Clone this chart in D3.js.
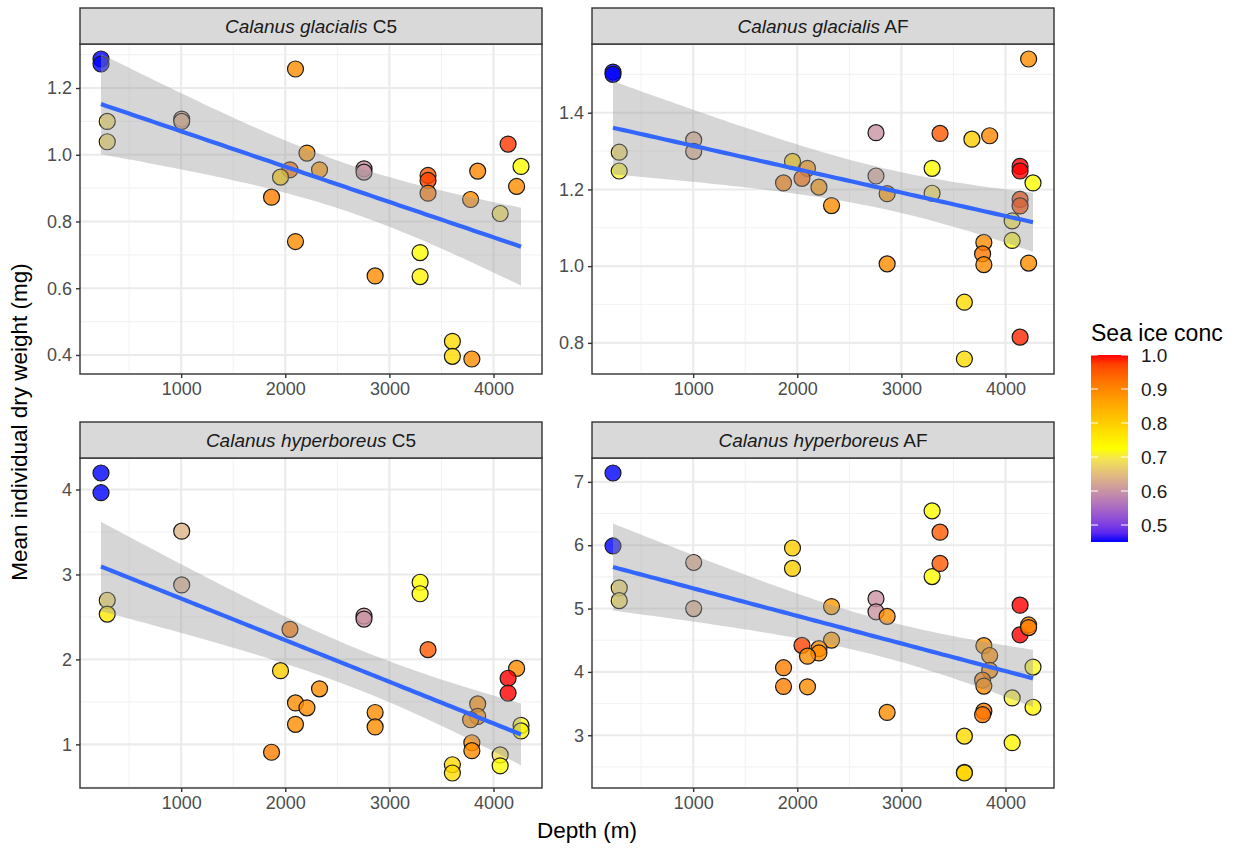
<!DOCTYPE html>
<html>
<head>
<meta charset="utf-8">
<script src="https://cdn.jsdelivr.net/npm/d3@7"></script>
<style>
  body { margin: 0; background: #fff; }
  svg { font-family: "Liberation Sans", Arial, sans-serif; }
</style>
</head>
<body>
<div id="chart"></div>
<script>
// station depths (m), dry weights (mg) and sea ice concentration per facet
const glacC5Depth = [230, 230, 290, 290, 1005, 1005, 2098, 2208, 2045, 1954, 2329, 1868, 2098, 2756, 2756, 2863, 3371, 3371, 3371, 3295, 3295, 3848, 3780, 4140, 4264, 4222, 4064, 3605, 3605, 3792];
const glacC5Weight = [1.287, 1.272, 1.100, 1.039, 1.107, 1.100, 1.257, 1.005, 0.955, 0.933, 0.955, 0.873, 0.740, 0.958, 0.948, 0.637, 0.938, 0.923, 0.885, 0.707, 0.635, 0.951, 0.866, 1.032, 0.965, 0.905, 0.824, 0.441, 0.396, 0.388];
const glacC5Ice = [0.45, 0.45, 0.68, 0.68, 0.63, 0.63, 0.89, 0.88, 0.93, 0.8, 0.88, 0.91, 0.89, 0.6, 0.6, 0.89, 0.95, 0.97, 0.92, 0.73, 0.74, 0.9, 0.89, 0.98, 0.73, 0.89, 0.69, 0.78, 0.78, 0.89];

const glacAFDepth = [230, 230, 290, 290, 1005, 1005, 1954, 2098, 2045, 1868, 2208, 2329, 2756, 2756, 2863, 2863, 3371, 3295, 3295, 3677, 3848, 3792, 3780, 3792, 3605, 3605, 4222, 4140, 4140, 4264, 4140, 4140, 4064, 4064, 4222, 4140];
const glacAFWeight = [1.506, 1.500, 1.297, 1.248, 1.329, 1.299, 1.273, 1.255, 1.229, 1.217, 1.206, 1.158, 1.348, 1.235, 1.189, 1.006, 1.346, 1.255, 1.190, 1.331, 1.340, 1.062, 1.032, 1.004, 0.906, 0.758, 1.540, 1.260, 1.248, 1.217, 1.174, 1.157, 1.118, 1.067, 1.008, 0.815];
const glacAFIce = [0.45, 0.45, 0.68, 0.71, 0.63, 0.63, 0.8, 0.88, 0.93, 0.91, 0.88, 0.89, 0.6, 0.62, 0.88, 0.89, 0.95, 0.73, 0.69, 0.8, 0.9, 0.89, 0.92, 0.89, 0.78, 0.78, 0.89, 1.0, 1.0, 0.73, 0.97, 0.97, 0.7, 0.72, 0.89, 0.99];

const hypC5Depth = [230, 230, 290, 290, 1005, 1005, 2045, 1954, 2329, 2098, 2208, 2098, 1868, 2756, 2756, 2863, 2863, 3295, 3295, 3371, 3848, 3848, 3780, 3792, 3792, 3605, 3605, 4064, 4064, 4222, 4140, 4140, 4264, 4264];
const hypC5Weight = [4.194, 3.962, 2.696, 2.533, 3.509, 2.877, 2.354, 1.867, 1.654, 1.488, 1.430, 1.236, 0.907, 2.510, 2.475, 1.375, 1.205, 2.908, 2.773, 2.115, 1.476, 1.329, 1.290, 1.019, 0.926, 0.760, 0.663, 0.876, 0.748, 1.894, 1.778, 1.604, 1.224, 1.158];
const hypC5Ice = [0.45, 0.45, 0.68, 0.76, 0.64, 0.63, 0.92, 0.8, 0.89, 0.89, 0.89, 0.89, 0.91, 0.6, 0.6, 0.89, 0.89, 0.73, 0.73, 0.95, 0.89, 0.89, 0.89, 0.89, 0.89, 0.78, 0.78, 0.69, 0.73, 0.89, 1.0, 1.0, 0.72, 0.74];

const hypAFDepth = [230, 230, 290, 290, 1005, 1005, 1954, 1954, 2329, 2329, 2045, 2208, 2208, 2098, 1868, 1868, 2098, 2756, 2756, 2863, 2863, 3295, 3295, 3371, 3371, 3792, 3848, 3848, 3780, 3792, 3792, 3780, 3605, 3605, 3605, 4064, 4064, 4140, 4140, 4222, 4222, 4264, 4264];
const hypAFWeight = [7.140, 5.988, 5.327, 5.125, 5.727, 5.000, 5.956, 5.634, 5.031, 4.502, 4.419, 4.367, 4.299, 4.248, 4.066, 3.770, 3.765, 5.156, 4.949, 4.876, 3.360, 6.542, 5.505, 6.206, 5.712, 4.414, 4.259, 4.025, 3.869, 3.776, 3.380, 3.324, 2.986, 2.414, 2.404, 3.589, 2.882, 5.053, 4.586, 4.741, 4.700, 4.076, 3.442];
const hypAFIce = [0.45, 0.45, 0.68, 0.69, 0.63, 0.63, 0.8, 0.8, 0.87, 0.87, 0.97, 0.89, 0.89, 0.89, 0.91, 0.91, 0.89, 0.6, 0.6, 0.89, 0.89, 0.73, 0.73, 0.95, 0.95, 0.88, 0.89, 0.89, 0.91, 0.89, 0.91, 0.92, 0.78, 0.78, 0.79, 0.71, 0.74, 1.0, 1.0, 0.9, 0.91, 0.72, 0.74];

const xTicks = [1000, 2000, 3000, 4000];
const glacC5Ticks = [0.4, 0.6, 0.8, 1.0, 1.2];
const glacAFTicks = [0.8, 1.0, 1.2, 1.4];
const hypC5Ticks = [1, 2, 3, 4];
const hypAFTicks = [3, 4, 5, 6, 7];
const iceTicks = [0.5, 0.6, 0.7, 0.8, 0.9, 1.0];

const panels = [
  { species: 'Calanus glacialis', stage: 'C5', depth: glacC5Depth, weight: glacC5Weight, ice: glacC5Ice, ticks: glacC5Ticks, fmt: '.1f', col: 0, row: 0 },
  { species: 'Calanus glacialis', stage: 'AF', depth: glacAFDepth, weight: glacAFWeight, ice: glacAFIce, ticks: glacAFTicks, fmt: '.1f', col: 1, row: 0 },
  { species: 'Calanus hyperboreus', stage: 'C5', depth: hypC5Depth, weight: hypC5Weight, ice: hypC5Ice, ticks: hypC5Ticks, fmt: 'd', col: 0, row: 1 },
  { species: 'Calanus hyperboreus', stage: 'AF', depth: hypAFDepth, weight: hypAFWeight, ice: hypAFIce, ticks: hypAFTicks, fmt: 'd', col: 1, row: 1 }
];

const width = 1239, height = 850;
const colX = [80, 592], rowY = [8, 422];
const panelW = 462, panelH = 330, stripH = 36;
const fontFam = '"Liberation Sans", Arial, sans-serif';

const svg = d3.select('#chart').append('svg')
  .attr('width', width)
  .attr('height', height);

// ggplot-like 5% expansion
function expand(ext) {
  let pad = (ext[1] - ext[0]) * 0.05;
  return [ext[0] - pad, ext[1] + pad];
}

let allDepth = [].concat(...panels.map(p => p.depth));
let x = d3.scaleLinear().domain(expand(d3.extent(allDepth))).range([0, panelW]);

let allIce = [].concat(...panels.map(p => p.ice));
let iceExt = d3.extent(allIce);
let color = d3.scaleLinear()
  .domain([iceExt[0], (iceExt[0] + iceExt[1]) / 2, iceExt[1]])
  .range(['blue', 'yellow', 'red'])
  .interpolate(d3.interpolateLab);

// t quantile (0.975) approximation for the lm confidence band
function tQuant(df) {
  let z = 1.959964;
  return z + (z ** 3 + z) / (4 * df) + (5 * z ** 5 + 16 * z ** 3 + 3 * z) / (96 * df * df);
}

function lmFit(xs, ys) {
  let n = xs.length;
  let mx = d3.mean(xs), my = d3.mean(ys);
  let sxx = d3.sum(xs, v => (v - mx) ** 2);
  let sxy = d3.sum(xs.map((v, i) => (v - mx) * (ys[i] - my)));
  let b = sxy / sxx, a = my - b * mx;
  let rss = d3.sum(xs.map((v, i) => (ys[i] - a - b * v) ** 2));
  let s = Math.sqrt(rss / (n - 2));
  let t = tQuant(n - 2);
  let ext = d3.extent(xs);
  return d3.range(80).map(i => {
    let xv = ext[0] + (ext[1] - ext[0]) * i / 79;
    let fit = a + b * xv;
    let se = s * Math.sqrt(1 / n + (xv - mx) ** 2 / sxx);
    return { x: xv, y: fit, lo: fit - t * se, hi: fit + t * se };
  });
}

panels.forEach(p => {
  let g = svg.append('g')
    .attr('transform', `translate(${colX[p.col]},${rowY[p.row]})`);
  let y = d3.scaleLinear().domain(expand(d3.extent(p.weight))).range([panelH, 0]);
  let body = g.append('g').attr('transform', `translate(0,${stripH})`);

  let clipId = `clip-${p.col}-${p.row}`;
  body.append('clipPath').attr('id', clipId)
    .append('rect').attr('width', panelW).attr('height', panelH);

  // minor grid
  let yt = p.ticks;
  let step = yt[1] - yt[0];
  let yMinor = d3.range(yt.length + 1).map(i => yt[0] - step / 2 + i * step)
    .filter(v => v > y.domain()[0] && v < y.domain()[1]);
  let xMinor = [500, 1500, 2500, 3500].filter(v => v > x.domain()[0] && v < x.domain()[1]);
  body.selectAll('.gminy').data(yMinor).enter().append('line')
    .attr('x1', 0).attr('x2', panelW)
    .attr('y1', d => y(d)).attr('y2', d => y(d))
    .attr('stroke', '#F3F3F3').attr('stroke-width', 1.1);
  body.selectAll('.gminx').data(xMinor).enter().append('line')
    .attr('y1', 0).attr('y2', panelH)
    .attr('x1', d => x(d)).attr('x2', d => x(d))
    .attr('stroke', '#F3F3F3').attr('stroke-width', 1.1);
  // major grid
  body.selectAll('.gmajy').data(yt).enter().append('line')
    .attr('x1', 0).attr('x2', panelW)
    .attr('y1', d => y(d)).attr('y2', d => y(d))
    .attr('stroke', '#EBEBEB').attr('stroke-width', 2.1);
  body.selectAll('.gmajx').data(xTicks).enter().append('line')
    .attr('y1', 0).attr('y2', panelH)
    .attr('x1', d => x(d)).attr('x2', d => x(d))
    .attr('stroke', '#EBEBEB').attr('stroke-width', 2.1);

  let content = body.append('g').attr('clip-path', `url(#${clipId})`);
  let pts = p.depth.map((d, i) => ({ depth: d, weight: p.weight[i], ice: p.ice[i] }));
  content.selectAll('circle').data(pts).enter().append('circle')
    .attr('cx', d => x(d.depth))
    .attr('cy', d => y(d.weight))
    .attr('r', 8)
    .attr('fill', d => color(d.ice))
    .attr('fill-opacity', 0.8)
    .attr('stroke', '#1a1a1a')
    .attr('stroke-width', 1.2);

  // lm smooth with 95% band
  let fit = lmFit(p.depth, p.weight);
  content.append('path')
    .datum(fit)
    .attr('d', d3.area().x(d => x(d.x)).y0(d => y(d.lo)).y1(d => y(d.hi)))
    .attr('fill', '#999999')
    .attr('fill-opacity', 0.4);
  content.append('path')
    .datum(fit)
    .attr('d', d3.line().x(d => x(d.x)).y(d => y(d.y)))
    .attr('fill', 'none')
    .attr('stroke', '#3366FF')
    .attr('stroke-width', 4.2);

  body.append('rect')
    .attr('width', panelW).attr('height', panelH)
    .attr('fill', 'none').attr('stroke', '#333333').attr('stroke-width', 1.4);

  // strip
  g.append('rect')
    .attr('width', panelW).attr('height', stripH)
    .attr('fill', '#D9D9D9').attr('stroke', '#333333').attr('stroke-width', 1.4);
  let st = g.append('text')
    .attr('x', panelW / 2).attr('y', stripH / 2 + 7)
    .attr('text-anchor', 'middle')
    .attr('font-size', 19)
    .attr('fill', '#1A1A1A');
  st.append('tspan').attr('font-style', 'italic').text(p.species);
  st.append('tspan').text(' ' + p.stage);

  // axes
  let yAxis = body.append('g')
    .call(d3.axisLeft(y).tickValues(yt).tickSize(4).tickPadding(4).tickFormat(d3.format(p.fmt)));
  let xAxis = body.append('g')
    .attr('transform', `translate(0,${panelH})`)
    .call(d3.axisBottom(x).tickValues(xTicks).tickSize(4).tickPadding(4).tickFormat(d3.format('d')));
  [yAxis, xAxis].forEach(a => {
    a.select('.domain').remove();
    a.selectAll('line').attr('stroke', '#333333').attr('stroke-width', 1.4);
    a.selectAll('text').attr('fill', '#4D4D4D').attr('font-size', 18)
      .attr('font-family', fontFam);
  });
});

// axis titles
svg.append('text')
  .attr('x', 587).attr('y', 838)
  .attr('text-anchor', 'middle')
  .attr('font-size', 22.5)
  .text('Depth (m)');
svg.append('text')
  .attr('transform', 'translate(27,422) rotate(-90)')
  .attr('text-anchor', 'middle')
  .attr('font-size', 22.5)
  .text('Mean individual dry weight (mg)');

// colour legend
let barX = 1091, barTop = 355, barH = 187, barW = 37;
let grad = svg.append('defs').append('linearGradient')
  .attr('id', 'icegrad')
  .attr('x1', '0%').attr('y1', '100%').attr('x2', '0%').attr('y2', '0%');
d3.range(21).forEach(i => {
  let v = iceExt[0] + (iceExt[1] - iceExt[0]) * i / 20;
  grad.append('stop').attr('offset', `${i * 5}%`).attr('stop-color', color(v));
});
let legY = d3.scaleLinear().domain(iceExt).range([barTop + barH, barTop]);
svg.append('text')
  .attr('x', 1091).attr('y', 341)
  .attr('font-size', 23)
  .text('Sea ice conc');
svg.append('rect')
  .attr('x', barX).attr('y', barTop)
  .attr('width', barW).attr('height', barH)
  .attr('fill', 'url(#icegrad)');
let leg = svg.append('g');
leg.selectAll('.tl').data(iceTicks).enter().append('line')
  .attr('x1', barX).attr('x2', barX + 7)
  .attr('y1', d => legY(d)).attr('y2', d => legY(d))
  .attr('stroke', '#fff').attr('stroke-width', 1);
leg.selectAll('.tr').data(iceTicks).enter().append('line')
  .attr('x1', barX + barW - 7).attr('x2', barX + barW)
  .attr('y1', d => legY(d)).attr('y2', d => legY(d))
  .attr('stroke', '#fff').attr('stroke-width', 1);
leg.selectAll('text').data(iceTicks).enter().append('text')
  .attr('x', barX + barW + 13)
  .attr('y', d => legY(d) + 7)
  .attr('font-size', 19)
  .attr('fill', '#1A1A1A')
  .text(d => d3.format('.1f')(d));
</script>
</body>
</html>
